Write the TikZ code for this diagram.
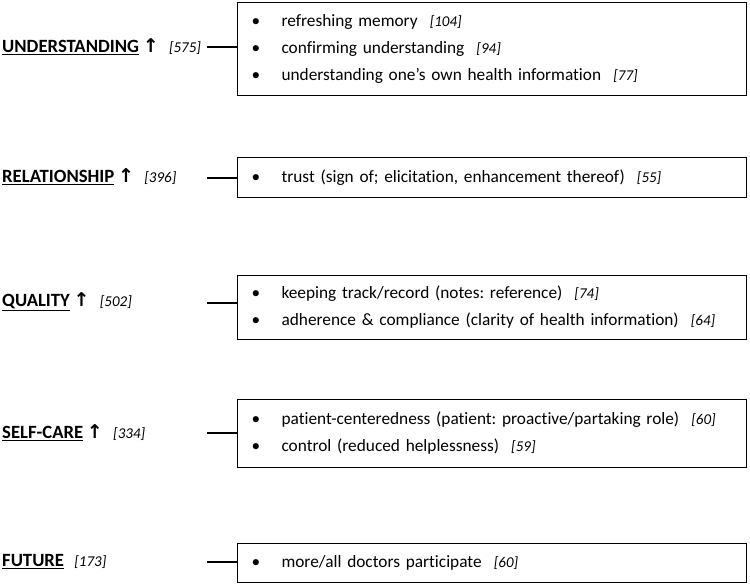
\documentclass[tikz,border=0pt]{standalone}
\usepackage{fontspec}
\setmainfont{Carlito}[Ligatures=NoCommon]
\newfontfamily\arrowfont{DejaVu Sans}
\usetikzlibrary{positioning}
\frenchspacing
\newcommand{\cnt}[1]{\hspace{0.7em}{\fontsize{15}{17}\selectfont\itshape[#1]}}
\newcommand{\lcnt}[1]{\hspace{0.55em}{\fontsize{15}{17}\selectfont\itshape[#1]}}
\newcommand{\bul}{\makebox[30pt][l]{\textbullet}}
\newcommand{\up}{\hspace{0.2em}{\arrowfont\bfseries\fontsize{19}{20}\selectfont ↑}}
\begin{document}
\begin{tikzpicture}
[x=1pt,y=-1pt,
  itembox/.style={draw,line width=1.1pt,anchor=north west,align=left,
    inner xsep=14pt,inner ysep=0pt,text width=481pt,
    font=\fontsize{17.3}{27}\selectfont},
  catlab/.style={anchor=west,inner sep=0pt,font=\fontsize{18.7}{20}\selectfont},
  link/.style={-,line width=1.1pt}]
\useasboundingbox (0,0) rectangle (750,585);
% categories
\node (u-lab) at (2,47) [catlab] {\textbf{\underline{UNDERSTANDING}}\up\lcnt{575}};
\node (r-lab) at (2,177) [catlab] {\textbf{\underline{RELATIONSHIP}}\up\lcnt{396}};
\node (q-lab) at (2,302) [catlab] {\textbf{\underline{QUALITY}}\up\lcnt{502}};
\node (s-lab) at (2,433) [catlab] {\textbf{\underline{SELF-CARE}}\up\lcnt{334}};
\node (f-lab) at (2,562) [catlab] {\textbf{\underline{FUTURE}}\lcnt{173}};
% boxes
\node (u-box) at (237,2) [itembox,minimum height=93pt]
  {\bul refreshing memory\cnt{104}\\
   \bul confirming understanding\cnt{94}\\
   \bul understanding one’s own health information\cnt{77}};
\node (r-box) at (237,157) [itembox,minimum height=40pt]
  {\bul trust (sign of; elicitation, enhancement thereof)\cnt{55}};
\node (q-box) at (237,275) [itembox,minimum height=64pt]
  {\bul keeping track/record (notes: reference)\cnt{74}\\
   \bul adherence \& compliance (clarity of health information)\cnt{64}};
\node (s-box) at (237,399) [itembox,minimum height=68pt]
  {\bul patient-centeredness (patient: proactive/partaking role)\cnt{60}\\
   \bul control (reduced helplessness)\cnt{59}};
\node (f-box) at (237,543) [itembox,minimum height=39pt]
  {\bul more/all doctors participate\cnt{60}};
% connectors
\coordinate (u-end) at (207,47);
\coordinate (r-end) at (207,178);
\coordinate (q-end) at (207,303);
\coordinate (s-end) at (207,433);
\coordinate (f-end) at (207,562);
\draw[link] (u-end) -- (u-end -| u-box.west);
\draw[link] (r-end) -- (r-end -| r-box.west);
\draw[link] (q-end) -- (q-end -| q-box.west);
\draw[link] (s-end) -- (s-end -| s-box.west);
\draw[link] (f-end) -- (f-end -| f-box.west);
\end{tikzpicture}
\end{document}
